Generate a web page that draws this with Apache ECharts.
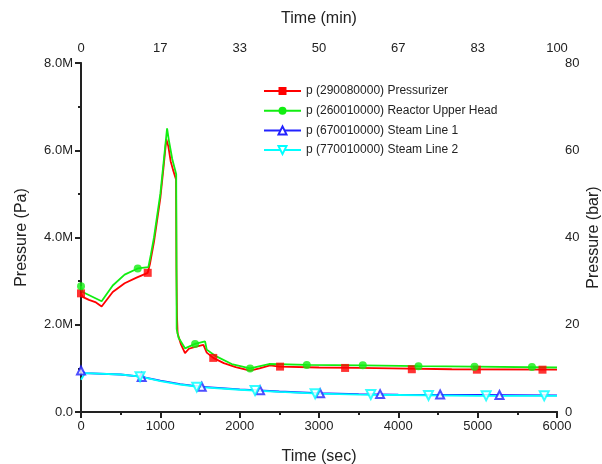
<!DOCTYPE html>
<html>
<head>
<meta charset="utf-8">
<script src="https://cdn.jsdelivr.net/npm/echarts@6/dist/echarts.min.js"></script>
<style>
  html, body { margin: 0; padding: 0; background: #fff; }
  #chart { width: 602px; height: 464px; }
</style>
</head>
<body>
<div id="chart"></div>
<script>
var names = ['p (290080000) Pressurizer', 'p (260010000) Reactor Upper Head',
             'p (670010000) Steam Line 1', 'p (770010000) Steam Line 2'];

// time (sec), pressure (Pa)
var pressurizer = [
  [0, 2.72e6], [20, 2.64e6], [100, 2.57e6], [180, 2.52e6], [260, 2.42e6], [400, 2.75e6],
  [550, 2.95e6], [700, 3.08e6], [841, 3.19e6], [870, 3.4e6], [920, 3.9e6], [960, 4.4e6],
  [1000, 4.9e6], [1040, 5.6e6], [1075, 6.25e6], [1100, 6.1e6], [1130, 5.75e6], [1160, 5.55e6],
  [1198, 5.33e6], [1203, 3.3e6], [1210, 2.2e6], [1218, 1.8e6], [1260, 1.55e6], [1311, 1.35e6],
  [1360, 1.45e6], [1450, 1.5e6], [1543, 1.54e6], [1585, 1.36e6], [1667, 1.24e6], [1800, 1.12e6],
  [1950, 1.03e6], [2131, 0.95e6], [2250, 1.0e6], [2383, 1.07e6], [2500, 1.04e6], [3000, 1.02e6],
  [3500, 1.01e6], [3918, 1.0e6], [3930, 0.98e6], [4674, 0.98e6], [4690, 0.97e6], [6000, 0.97e6]
];
var upperHead = [
  [0, 2.88e6], [20, 2.75e6], [260, 2.54e6], [400, 2.9e6], [550, 3.15e6], [715, 3.29e6],
  [849, 3.32e6], [880, 3.6e6], [920, 4.0e6], [960, 4.5e6], [1000, 5.0e6], [1040, 5.7e6],
  [1085, 6.5e6], [1110, 6.2e6], [1150, 5.8e6], [1200, 5.45e6], [1206, 1.9e6], [1230, 1.7e6],
  [1311, 1.46e6], [1438, 1.56e6], [1564, 1.62e6], [1585, 1.43e6], [1700, 1.28e6], [1900, 1.1e6],
  [2131, 1.0e6], [2370, 1.1e6], [2846, 1.08e6], [3550, 1.07e6], [4250, 1.05e6], [4960, 1.04e6],
  [6000, 1.02e6]
];
var steamLine1 = [
  [0, 0.95e6], [50, 0.89e6], [500, 0.86e6], [750, 0.81e6], [1000, 0.72e6], [1250, 0.64e6],
  [1500, 0.58e6], [2000, 0.52e6], [2500, 0.47e6], [3000, 0.43e6], [3500, 0.41e6], [4000, 0.40e6],
  [5000, 0.39e6], [6000, 0.38e6]
];
var steamLine2 = [
  [0, 0.74e6], [50, 0.89e6], [500, 0.86e6], [750, 0.81e6], [1000, 0.71e6], [1250, 0.63e6],
  [1500, 0.57e6], [2000, 0.51e6], [2500, 0.46e6], [3000, 0.42e6], [3500, 0.40e6], [4000, 0.39e6],
  [5000, 0.37e6], [6000, 0.37e6]
];

// marker points along each curve
var pressurizerMarks = [[0, 2.72e6], [841, 3.19e6], [1667, 1.24e6], [2509, 1.04e6], [3329, 1.01e6],
                        [4170, 0.98e6], [4990, 0.97e6], [5817, 0.97e6]];
var upperHeadMarks = [[0, 2.88e6], [715, 3.29e6], [1438, 1.56e6], [2131, 1.0e6], [2846, 1.08e6],
                      [3552, 1.07e6], [4254, 1.05e6], [4960, 1.04e6], [5684, 1.03e6]];
var steamLine1Marks = [[0, 0.95e6], [765, 0.80e6], [1522, 0.58e6], [2257, 0.50e6], [3014, 0.43e6],
                       [3770, 0.41e6], [4527, 0.40e6], [5275, 0.39e6]];
var steamLine2Marks = [[744, 0.81e6], [1459, 0.57e6], [2194, 0.49e6], [2951, 0.42e6],
                       [3653, 0.40e6], [4380, 0.38e6], [5107, 0.37e6], [5839, 0.37e6]];

var colors = ['#ff0000', '#11ee11', '#2222ff', '#00ffff'];
var font = 'Liberation Sans';

var myChart = echarts.init(document.getElementById('chart'));

function lineSeries(i, data, symbol, rotate) {
  return {
    name: names[i],
    type: 'line',
    data: data,
    showSymbol: false,
    symbol: symbol,
    symbolRotate: rotate || 0,
    symbolSize: 8,
    color: colors[i],
    lineStyle: { width: 1.8, color: colors[i] },
    animation: false
  };
}

function markSeries(i, data, symbol, size, rotate) {
  return {
    name: 'marks' + i,
    type: 'scatter',
    data: data,
    symbol: symbol,
    symbolSize: size,
    symbolRotate: rotate || 0,
    itemStyle: { color: colors[i], borderWidth: 2 },
    z: 3,
    animation: false
  };
}

var axisFont = { fontFamily: font, fontSize: 13, color: '#222' };
var nameFont = { fontFamily: font, fontSize: 16, color: '#222' };

myChart.setOption({
  animation: false,
  grid: { left: 81, right: 45, top: 63, bottom: 52, outerBoundsMode: 'none', containLabel: false },
  legend: {
    data: names,
    orient: 'vertical',
    left: 258,
    top: 80,
    itemWidth: 37,
    itemHeight: 10,
    itemGap: 7.7,
    textStyle: { fontFamily: font, fontSize: 12, color: '#222' }
  },
  xAxis: [{
    type: 'value', position: 'bottom', min: 0, max: 6000, interval: 1000,
    name: 'Time (sec)', nameLocation: 'middle', nameGap: 37, nameTextStyle: nameFont,
    axisLine: { lineStyle: { color: '#222', width: 2 } },
    axisTick: { inside: false, length: 5, lineStyle: { color: '#222', width: 2 } },
    minorTick: { show: true, splitNumber: 2, length: 3, lineStyle: { color: '#222', width: 2 } },
    axisLabel: Object.assign({ formatter: function (v) { return String(v); } }, axisFont),
    splitLine: { show: false }
  }, {
    type: 'value', position: 'top', min: 0, max: 6000, interval: 1000,
    name: 'Time (min)', nameLocation: 'middle', nameGap: 36, nameTextStyle: nameFont,
    axisLine: { lineStyle: { color: '#222', width: 2 } },
    axisTick: { inside: true, length: 6, lineStyle: { color: '#222', width: 2 } },
    minorTick: { show: true, splitNumber: 2, length: 3, lineStyle: { color: '#222', width: 2 } },
    axisLabel: Object.assign({ formatter: function (v) { return Math.round(v / 60); } }, axisFont),
    splitLine: { show: false }
  }],
  yAxis: [{
    type: 'value', position: 'left', min: 0, max: 8e6, interval: 2e6,
    name: 'Pressure (Pa)', nameLocation: 'middle', nameGap: 51, nameTextStyle: nameFont,
    axisLine: { show: true, lineStyle: { color: '#777', width: 2 } },
    axisTick: { show: true, inside: false, length: 6, lineStyle: { color: '#222', width: 2 } },
    minorTick: { show: true, splitNumber: 2, length: 3, lineStyle: { color: '#222', width: 2 } },
    axisLabel: Object.assign({
      formatter: function (v) { return v === 0 ? '0.0' : (v / 1e6).toFixed(1) + 'M'; }
    }, axisFont),
    splitLine: { show: false }
  }, {
    type: 'value', position: 'right', min: 0, max: 80, interval: 20,
    name: 'Pressure (bar)', nameLocation: 'middle', nameGap: 29, nameRotate: 90,
    nameMoveOverlap: false,
    nameTextStyle: nameFont,
    axisLine: { show: true, lineStyle: { color: '#222', width: 2 } },
    axisTick: { show: true, inside: true, length: 6, lineStyle: { color: '#222', width: 2 } },
    minorTick: { show: true, splitNumber: 2, length: 3, lineStyle: { color: '#222', width: 2 } },
    axisLabel: axisFont,
    splitLine: { show: false }
  }],
  series: [
    lineSeries(0, pressurizer, 'rect'),
    lineSeries(1, upperHead, 'circle'),
    lineSeries(2, steamLine1, 'emptyTriangle'),
    lineSeries(3, steamLine2, 'emptyTriangle', 180),
    markSeries(0, pressurizerMarks, 'rect', 8),
    markSeries(1, upperHeadMarks, 'circle', 8),
    markSeries(2, steamLine1Marks, 'emptyTriangle', 8),
    markSeries(3, steamLine2Marks, 'emptyTriangle', 9, 180)
  ]
});
</script>
</body>
</html>
